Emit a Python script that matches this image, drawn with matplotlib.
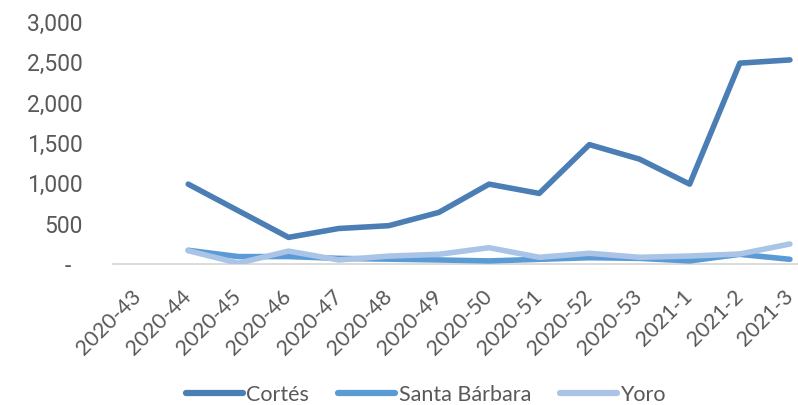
import matplotlib
matplotlib.use("Agg")
import matplotlib.pyplot as plt
from matplotlib.ticker import FuncFormatter

weeks = ["2020-43", "2020-44", "2020-45", "2020-46", "2020-47", "2020-48", "2020-49",
         "2020-50", "2020-51", "2020-52", "2020-53", "2021-1", "2021-2", "2021-3"]
cortes = [None, 990, 660, 330, 440, 475, 640, 990, 875, 1480, 1300, 990, 2490, 2530]
santa_barbara = [None, 170, 92, 92, 70, 60, 50, 38, 58, 78, 70, 38, 120, 58]
yoro = [None, 165, 10, 160, 50, 98, 120, 202, 83, 133, 83, 99, 124, 248]
yticks = [0, 500, 1000, 1500, 2000, 2500, 3000]

W, H = 798, 405
fig = plt.figure(figsize=(W / 100, H / 100), dpi=100)
ax = fig.add_axes([113 / W, (H - 264) / H, 702 / W, 242 / H])

x = list(range(len(weeks)))
def pts(vals):
    xs = [i for i, v in zip(x, vals) if v is not None]
    ys = [v for v in vals if v is not None]
    return xs, ys

series = [("Cortés", cortes, "#4a7eb4"),
          ("Santa Bárbara", santa_barbara, "#5b9bd5"),
          ("Yoro", yoro, "#a9c4e7")]
handles = []
for name, vals, col in series:
    xs, ys = pts(vals)
    h, = ax.plot(xs, ys, color=col, lw=4, solid_capstyle="round",
                 solid_joinstyle="round", label=name)
    handles.append(h)

ax.set_xlim(-0.5, len(weeks) - 0.5)
ax.set_ylim(0, 3000)
ax.set_yticks(yticks)
ax.yaxis.set_major_formatter(FuncFormatter(lambda v, p: "-  " if v == 0 else f"{int(v):,}"))
for s in ["top", "right", "left"]:
    ax.spines[s].set_visible(False)
ax.spines["bottom"].set_color("#d9d9d9")
ax.spines["bottom"].set_linewidth(1.3)
ax.spines["bottom"].set_zorder(0)

ax.set_xticks(x)
ax.set_xticklabels(weeks, rotation=45, ha="right", va="center",
                   rotation_mode="anchor", fontfamily="Lato", fontsize=15.5, color="#595959")
ax.tick_params(axis="x", length=0, pad=21)
ax.tick_params(axis="y", length=0, pad=21.6, labelsize=16.5, labelcolor="#595959")
for lab in ax.get_yticklabels():
    lab.set_fontfamily("Roboto")

leg = fig.legend(handles=handles, loc="center", bbox_to_anchor=(426 / W, 1 - 395 / H),
                 ncol=3, frameon=False, prop={"family": "Lato", "size": 15.5},
                 handlelength=2.65, handletextpad=0.15, columnspacing=1.35,
                 borderpad=0.1)
for t in leg.get_texts():
    t.set_color("#595959")
for l in leg.get_lines():
    l.set_linewidth(4.5)
    l.set_solid_capstyle("round")

fig.savefig("out.png", dpi=100)
